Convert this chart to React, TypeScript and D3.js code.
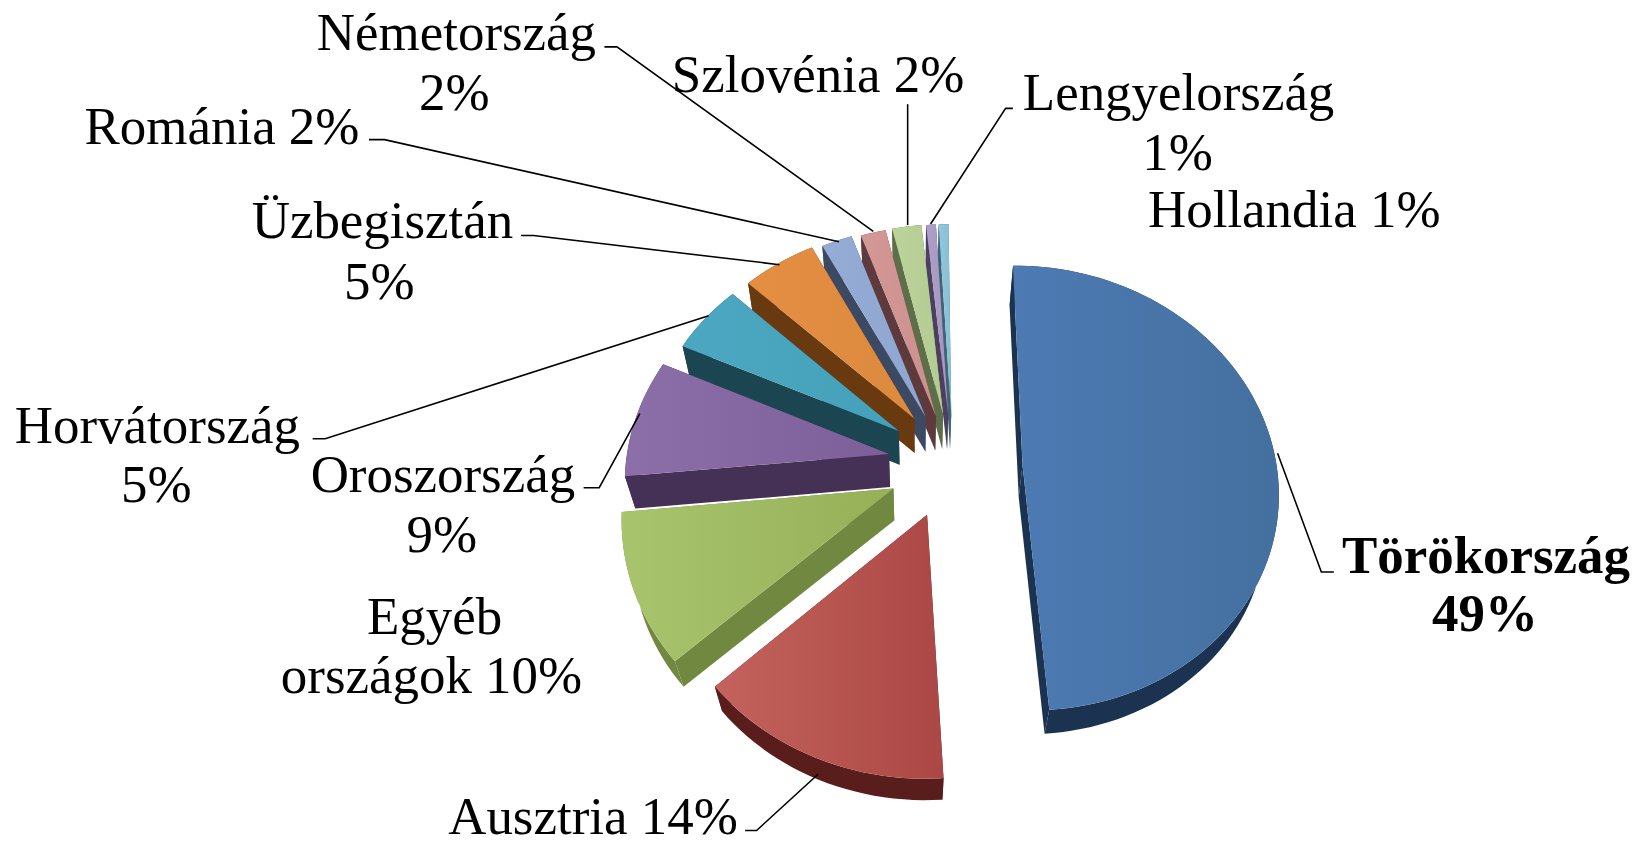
import React from "react";
import * as d3 from "d3";

// ---- data ----
const countries = ["Törökország","Ausztria","Egyéb országok","Oroszország","Horvátország","Üzbegisztán","Románia","Németország","Szlovénia","Lengyelország","Hollandia"];
const shares = [49.3,14.2,10.3,8.4,5.3,5.3,2.2,1.8,2.1,0.7,0.7];
const shiftX = [76,-15,-47,-52,-43,-28,-17,-7,0,5,8];
const shiftZ = [7,61,33,-5,-31,-45,-47,-48,-50,-50,-50];
const radii = [243,248,255,252,243,243,243,243,243,243,243];
const topLeft = ["#4d7ab3","#c4625d","#a8c46d","#8c6fa8","#4ca8c2","#e48e42","#95acd5","#d49896","#bcd39c","#ae9ec8","#90c7dc"];
const topRight = ["#44709f","#ab4845","#95b057","#7c5e99","#45a0b9","#dd8a3e","#8ea6d0","#cb8f8d","#b3cc91","#a596bf","#88bfd5"];
const sideColors = ["#1b3350","#591e1c","#70883f","#453156","#1a4551","#693a10","#3c4962","#5e3a3c","#5e6e49","#4c4060","#3e6576"];

const labels = [
  {t:"Németország",x:438,y:48},{t:"2%",x:436,y:106},
  {t:"Szlovénia 2%",x:785,y:88},
  {t:"Lengyelország",x:1131,y:106},{t:"1%",x:1130,y:163},{t:"Hollandia 1%",x:1242,y:218},
  {t:"Románia 2%",x:213,y:138},
  {t:"Üzbegisztán",x:367,y:228},{t:"5%",x:364,y:287},
  {t:"Horvátország",x:151,y:425},{t:"5%",x:150,y:482},
  {t:"Oroszország",x:425,y:472},{t:"9%",x:424,y:530},
  {t:"Egyéb",x:417,y:608},{t:"országok 10%",x:414,y:665},
  {t:"Ausztria 14%",x:569,y:800},
];
const boldLabels = [{t:"Törökország",x:1426,y:550},{t:"49%",x:1425,y:606}];
const leaders: [number,number][][] = [
  [[580,45],[592,45],[838,222]],
  [[871,100],[871,216]],
  [[972,104],[965,104],[893,215]],
  [[354,134],[369,134],[805,232]],
  [[500,226],[512,226],[748,254]],
  [[300,421],[312,421],[680,303]],
  [[560,468],[575,468],[614,397]],
  [[715,797],[726,797],[785,743]],
  [[1280,549],[1268,549],[1226,435]],
];

// ---- 3D projection ----
const CX = 905, CY = 440, DEPTH = 2341, TILT = 2021;
const VP: [number,number] = [880,1322], K = 0.0358;
const project = (x:number,z:number):[number,number] => {
  const w = 1 - z/DEPTH;
  return [CX + x/w, CY - TILT + TILT/w];
};
const lower = (p:[number,number]):[number,number] => [p[0]+(VP[0]-p[0])*K, p[1]+(VP[1]-p[1])*K];
const rad = (d:number)=>d*Math.PI/180;
const line = d3.line();

export default function App(){
  const pie = d3.pie<number>().sort(null).startAngle(rad(-0.5)).endAngle(rad(359.5))(shares);
  const slices = pie.map((a,i)=>{
    const ex=shiftX[i], ez=shiftZ[i], R=radii[i];
    const n=Math.max(6,Math.ceil((a.endAngle-a.startAngle)/rad(2)));
    const rim=d3.range(n+1).map(j=>{
      const t=a.startAngle+(a.endAngle-a.startAngle)*j/n;
      return project(ex+R*Math.sin(t),ez-R*Math.cos(t));
    });
    const apex=project(ex,ez);
    const rimLow=rim.map(lower);
    const xs=rim.map(p=>p[0]).concat(apex[0]);
    return {i,apex,rim,rimLow,x0:d3.min(xs)!,x1:d3.max(xs)!};
  });
  const order=[...slices].reverse();
  return (
    <svg width={1634} height={843} viewBox="0 0 1568 809" style={{position:"absolute",left:0,top:0,background:"#fff"}}>
      <defs>
        {slices.map(s=>(
          <linearGradient key={s.i} id={`g${s.i}`} gradientUnits="userSpaceOnUse" x1={s.x0} x2={s.x1} y1={0} y2={0}>
            <stop offset="0" stopColor={topLeft[s.i]}/>
            <stop offset="1" stopColor={topRight[s.i]}/>
          </linearGradient>
        ))}
      </defs>
      {order.map(s=>{
        const side=sideColors[s.i];
        const aLow=lower(s.apex);
        const first=s.rim[0], last=s.rim[s.rim.length-1];
        return (
          <g key={s.i}>
            <path d={line([...s.rim,...[...s.rimLow].reverse()])+"Z"} fill={side}/>
            <path d={line([s.apex,last,lower(last),aLow])+"Z"} fill={side}/>
            <path d={line([s.apex,first,lower(first),aLow])+"Z"} fill={side}/>
            <path d={line([s.apex,...s.rim])+"Z"} fill={`url(#g${s.i})`}/>
          </g>
        );
      })}
      {leaders.map((l,i)=><path key={i} d={line(l)!} fill="none" stroke="#000" strokeWidth={1.5}/>)}
      <g fontFamily="'Liberation Serif'" fontSize={50.8} fill="#000" textAnchor="middle">
        {labels.map((l,i)=><text key={i} x={l.x} y={l.y}>{l.t}</text>)}
        {boldLabels.map((l,i)=><text key={i} x={l.x} y={l.y} fontWeight="bold">{l.t}</text>)}
      </g>
    </svg>
  );
}
